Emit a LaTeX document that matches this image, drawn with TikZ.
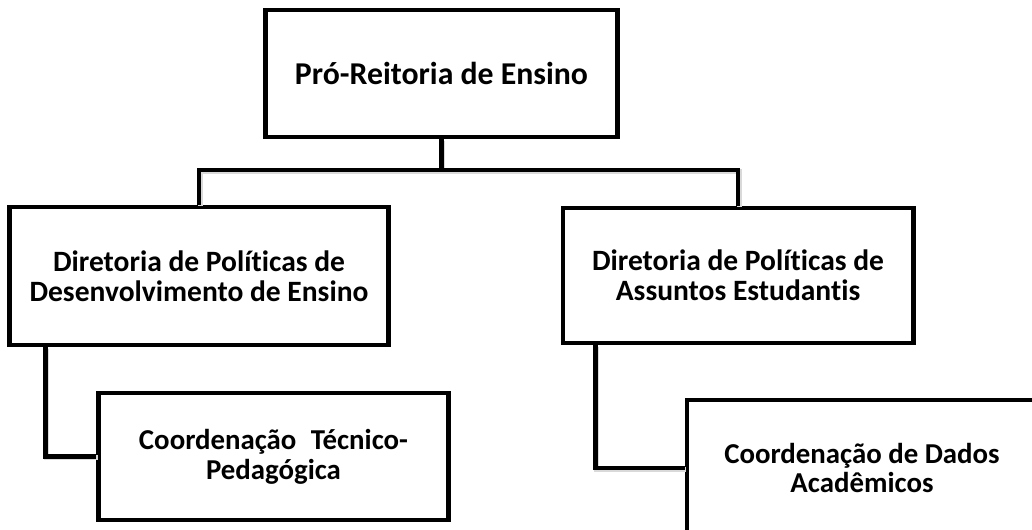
\documentclass[tikz,border=0pt]{standalone}
\usepackage{fontspec}
\setmainfont[Ligatures=NoCommon]{Carlito}
\usetikzlibrary{positioning,shadows}

\begin{document}
\begin{tikzpicture}[x=0.025cm, y=-0.025cm, line join=miter,
		unitbox/.style={draw, line width=3.5pt, fill=white, align=center, inner sep=0pt,
			font=\bfseries\fontsize{20.5}{21.3}\selectfont,
			drop shadow={shadow xshift=1pt, shadow yshift=-1pt, opacity=0.2, fill=black}},
		link/.style={line width=3.5pt,
			preaction={draw=black!15, line width=3.5pt, transform canvas={shift={(0.9pt,-0.9pt)}}}}]
	
	\useasboundingbox (0,0) rectangle (1032,529);
	\clip (0,0) rectangle (1032,529);
	
	% top level
	\node[unitbox, minimum width=8.775cm, minimum height=3.175cm,
	font=\bfseries\fontsize{22.6}{24}\selectfont] (proreit) at (441.5,73.5)
	{Pró-Reitoria de Ensino};
	
	% directorates
	\node[unitbox, minimum width=9.45cm, minimum height=3.45cm,
	font=\bfseries\fontsize{21}{21.3}\selectfont] (dirdes) at (199,276)
	{Diretoria de Políticas de\\Desenvolvimento de Ensino};
	\node[unitbox, minimum width=8.75cm, minimum height=3.375cm,
	font=\bfseries\fontsize{21}{21.3}\selectfont] (dirasu) at (738,275.5)
	{Diretoria de Políticas de\\Assuntos Estudantis};
	
	% coordinations
	\node[unitbox, minimum width=8.725cm, minimum height=3.175cm] (coordtp) at (273.5,456.5)
	{Coordenação\hspace{0.5em}Técnico-\\Pedagógica};
	\node[unitbox, minimum width=8.75cm, minimum height=3.4cm] (coordda) at (862,468)
	{Coordenação de Dados\\Acadêmicos};
	
	% connectors
	\coordinate (bus) at (441.5,170);
	\coordinate (tapdes) at ([xshift=0.95cm]dirdes.south west);
	\coordinate (tapasu) at ([xshift=0.875cm]dirasu.south west);
	
	\draw[link] (proreit.south) -- (bus) -| (dirdes.north);
	\draw[link] (bus) -| (dirasu.north);
	\draw[link] (tapdes) |- (coordtp.west);
	\draw[link] (tapasu) |- (coordda.west);
	
\end{tikzpicture}
\end{document}
